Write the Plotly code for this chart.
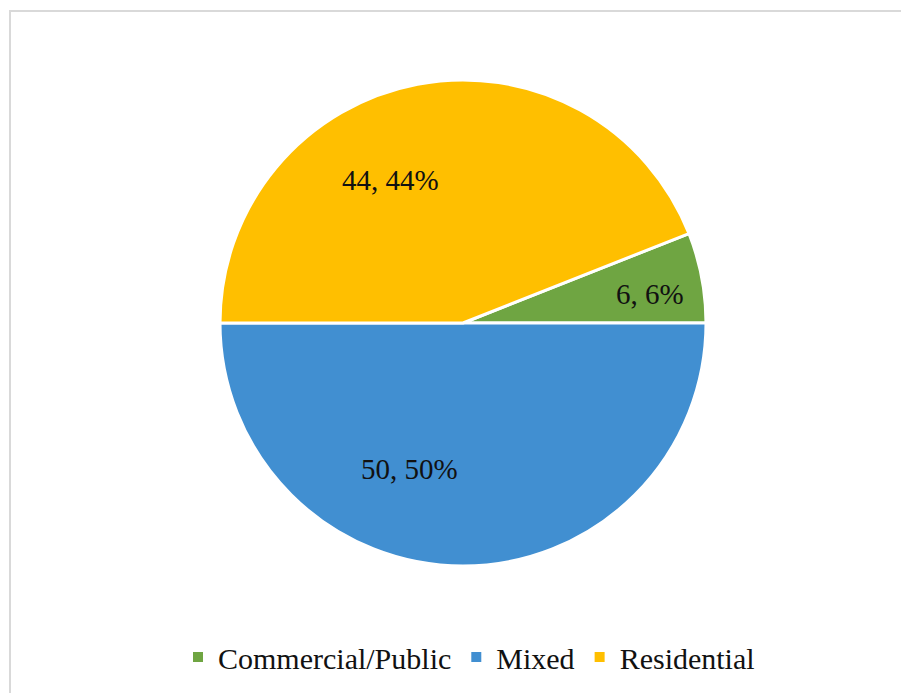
import math
import plotly.graph_objects as go

# Land-use categories and their counts
categories = ["Commercial/Public", "Mixed", "Residential"]
counts = [6, 50, 44]
colors = ["#6FA542", "#418FD1", "#FFBF00"]

W, H = 901, 693
cx, cy, r = 463, 323, 243  # pie centre and radius in pixels
start_deg = 21.6  # first slice starts here (math angle, counter-clockwise from east)

fig = go.Figure(go.Pie(
    labels=categories,
    values=counts,
    marker=dict(colors=colors, line=dict(color="white", width=3)),
    sort=False,
    direction="clockwise",
    rotation=90 - start_deg,
    textinfo="none",
    hoverinfo="label+value+percent",
    domain=dict(x=[(cx - r) / W, (cx + r) / W], y=[1 - (cy + r) / H, 1 - (cy - r) / H]),
))

# Data labels "value, percent" placed inside each slice
total = sum(counts)
label_geom = {  # angular offset from slice mid (deg), radial fraction
    "Commercial/Public": (-2, 0.78),
    "Mixed": (-20, 0.64),
    "Residential": (16, 0.66),
}
angle = start_deg
for cat, v in zip(categories, counts):
    span = 360 * v / total
    mid = angle - span / 2
    angle -= span
    off, frac = label_geom[cat]
    a = math.radians(mid + off)
    px = cx + frac * r * math.cos(a)
    py = cy - frac * r * math.sin(a)
    fig.add_annotation(
        x=px / W, y=1 - py / H, xref="paper", yref="paper",
        xanchor="center", yanchor="middle",
        text=f"{v}, {round(100 * v / total)}%", showarrow=False,
        font=dict(family="Liberation Serif", size=29, color="#111111"),
    )

# Chart-area frame
fig.add_shape(type="rect", xref="paper", yref="paper",
              x0=10 / W, y0=-0.1, x1=1.1, y1=1 - 11 / H,
              line=dict(color="#D9D9D9", width=2), layer="below")

fig.update_layout(
    width=W, height=H,
    margin=dict(l=0, r=0, t=0, b=0),
    paper_bgcolor="white", plot_bgcolor="white",
    showlegend=True,
    legend=dict(orientation="h", x=469 / W, xanchor="center", y=1 - 657 / H, yanchor="middle",
                font=dict(family="Liberation Serif", size=30, color="#111111"),
                itemsizing="constant", traceorder="normal"),
)

fig.write_html("out.html")
